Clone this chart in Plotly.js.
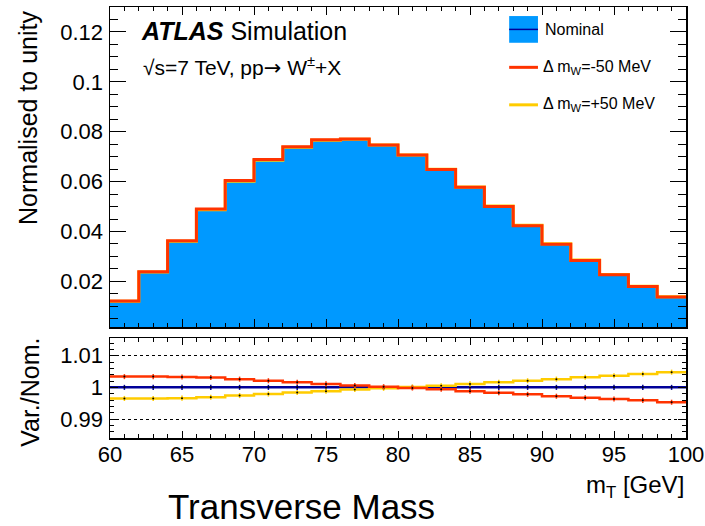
<!DOCTYPE html>
<html>
<head>
<meta charset="utf-8">
<script src="https://cdn.plot.ly/plotly-3.0.1.min.js"></script>
<style>
html,body{margin:0;padding:0;background:#fff;}
#plot{width:705px;height:526px;}
</style>
</head>
<body>
<div id="plot"></div>
<script>
// ---- data ----
const binEdges = [60,62,64,66,68,70,72,74,76,78,80,82,84,86,88,90,92,94,96,98,100];
const binCenters = [61,63,65,67,69,71,73,75,77,79,81,83,85,87,89,91,93,95,97,99];

const nominal = [0.0121,0.0238,0.0362,0.0489,0.0603,0.0687,0.0739,0.0767,0.0770,0.0747,
                 0.0707,0.0649,0.0578,0.0501,0.0424,0.0350,0.0285,0.0227,0.0180,0.0138];
const massDown = [0.01214,0.02388,0.03632,0.04905,0.06046,0.06884,0.07402,0.07678,0.07705,0.07471,
                  0.07069,0.06486,0.05773,0.05001,0.04231,0.03490,0.02841,0.02262,0.01793,0.01374];
const massUp = [0.01206,0.02372,0.03608,0.04875,0.06014,0.06856,0.07378,0.07661,0.07695,0.07468,
                0.07071,0.06493,0.05786,0.05018,0.04249,0.03509,0.02859,0.02278,0.01808,0.01387];

const ratioNominal = [1,1,1,1,1,1,1,1,1,1,1,1,1,1,1,1,1,1,1,1];
const ratioDown = [1.0034,1.0034,1.0033,1.0031,1.0026,1.0021,1.0016,1.0011,1.0006,1.0002,
                   0.9998,0.9994,0.9988,0.9983,0.9978,0.9972,0.9967,0.9963,0.9959,0.9953];
const ratioUp = [0.9965,0.9965,0.9966,0.9969,0.9974,0.9979,0.9984,0.9988,0.9993,0.9997,
                 1.0001,1.0005,1.0011,1.0016,1.0021,1.0026,1.0032,1.0037,1.0042,1.0048];
const ratioErr = [0.0008,0.0008,0.0008,0.0008,0.0008,0.0008,0.0008,0.0008,0.0008,0.0008,
                  0.0008,0.0008,0.0008,0.0008,0.0008,0.0008,0.0008,0.0008,0.0008,0.0008];

const topTickVals = [0.02,0.04,0.06,0.08,0.1,0.12];
const topTickText = ["0.02","0.04","0.06","0.08","0.1","0.12"];
const ratioTickVals = [0.99,1,1.01];
const ratioTickText = ["0.99","1","1.01"];

const seriesNames = ["Nominal","Δ m<sub>W</sub>=-50 MeV","Δ m<sub>W</sub>=+50 MeV"];

// ---- styles ----
const FONT = "Liberation Sans, Arial, Helvetica, sans-serif";
const cBlue = "#0099ff", cNavy = "#000099", cRed = "#ff3300", cYellow = "#ffcc00";

function stepY(v){ return v.concat([v[v.length-1]]); }

const traces = [
  {type:"bar", x:binCenters, y:nominal, width:2, marker:{color:cBlue, line:{width:0}},
   xaxis:"x", yaxis:"y", hoverinfo:"skip", showlegend:false},
  {type:"scatter", mode:"lines", x:binEdges, y:stepY(massUp), line:{shape:"hv", color:cYellow, width:3},
   xaxis:"x", yaxis:"y", showlegend:false},
  {type:"scatter", mode:"lines", x:binEdges, y:stepY(massDown), line:{shape:"hv", color:cRed, width:3},
   xaxis:"x", yaxis:"y", showlegend:false},
  // ratio panel
  {type:"scatter", mode:"lines", x:binEdges, y:stepY(ratioNominal), line:{shape:"hv", color:cNavy, width:2.5},
   xaxis:"x2", yaxis:"y2", showlegend:false},
  {type:"scatter", mode:"markers", x:binCenters, y:ratioNominal, marker:{size:2, color:"#000"},
   error_y:{type:"data", array:ratioErr, visible:true, width:0, thickness:1.5, color:cNavy},
   xaxis:"x2", yaxis:"y2", showlegend:false},
  {type:"scatter", mode:"lines", x:binEdges, y:stepY(ratioUp), line:{shape:"hv", color:cYellow, width:2.5},
   xaxis:"x2", yaxis:"y2", showlegend:false},
  {type:"scatter", mode:"markers", x:binCenters, y:ratioUp, marker:{size:2, color:"#000"},
   error_y:{type:"data", array:ratioErr, visible:true, width:0, thickness:1.5, color:cYellow},
   xaxis:"x2", yaxis:"y2", showlegend:false},
  {type:"scatter", mode:"lines", x:binEdges, y:stepY(ratioDown), line:{shape:"hv", color:cRed, width:2.5},
   xaxis:"x2", yaxis:"y2", showlegend:false},
  {type:"scatter", mode:"markers", x:binCenters, y:ratioDown, marker:{size:2, color:"#000"},
   error_y:{type:"data", array:ratioErr, visible:true, width:0, thickness:1.5, color:cRed},
   xaxis:"x2", yaxis:"y2", showlegend:false}
];

const frame = {showline:true, linecolor:"#000", linewidth:1.5, mirror:"ticks", ticks:"inside",
               tickcolor:"#000", zeroline:false, showgrid:false};

// legend geometry (paper coords)
const legX0 = 0.693, legX1 = 0.743, legTextX = 0.752;
const legY = [0.948, 0.860, 0.773];

const shapes = [
  {type:"rect", xref:"paper", yref:"paper", x0:legX0, x1:legX1, y0:0.917, y1:0.979,
   fillcolor:cBlue, line:{width:0}},
  {type:"line", xref:"paper", yref:"paper", x0:legX0, x1:legX1, y0:legY[0], y1:legY[0], line:{color:cNavy, width:1.5}},
  {type:"line", xref:"paper", yref:"paper", x0:legX0, x1:legX1, y0:legY[1], y1:legY[1], line:{color:cRed, width:3}},
  {type:"line", xref:"paper", yref:"paper", x0:legX0, x1:legX1, y0:legY[2], y1:legY[2], line:{color:cYellow, width:3}}
];

const annotations = [
  {text:"<b><i>ATLAS</i></b> Simulation", xref:"paper", yref:"paper", x:0.050, y:0.944,
   xanchor:"left", yanchor:"middle", showarrow:false, font:{family:FONT, size:25, color:"#000"}},
  {text:"√s=7 TeV, pp<span style=\"font-family:DejaVu Sans\">→</span> W<sup>±</sup>+X", xref:"paper", yref:"paper", x:0.053, y:0.861,
   xanchor:"left", yanchor:"middle", showarrow:false, font:{family:FONT, size:21, color:"#000"}},
  {text:"Normalised to unity", xref:"paper", yref:"paper", x:-0.142, y:0.743, textangle:-90,
   xanchor:"center", yanchor:"middle", showarrow:false, font:{family:FONT, size:25, color:"#000"}},
  {text:"Var./Nom.", xref:"paper", yref:"paper", x:-0.139, y:0.107, textangle:-90,
   xanchor:"center", yanchor:"middle", showarrow:false, font:{family:FONT, size:25, color:"#000"}},
  {text:"m<sub>T</sub> [GeV]", xref:"paper", yref:"paper", x:1.0, y:-0.112,
   xanchor:"right", yanchor:"middle", showarrow:false, font:{family:FONT, size:24, color:"#000"}},
  {text:"Transverse Mass", xref:"paper", yref:"paper", x:0.333, y:-0.16,
   xanchor:"center", yanchor:"middle", showarrow:false, font:{family:FONT, size:35, color:"#000"}}
];
seriesNames.forEach(function(n,i){
  annotations.push({text:n, xref:"paper", yref:"paper", x:legTextX - (i>0?0.004:0), y:legY[i],
    xanchor:"left", yanchor:"middle", showarrow:false, font:{family:FONT, size:16, color:"#000"}});
});

const layout = {
  width:705, height:526,
  margin:{l:110, r:19, t:7, b:88},
  paper_bgcolor:"#fff", plot_bgcolor:"#fff",
  font:{family:FONT, color:"#000"},
  showlegend:false, bargap:0,
  xaxis: Object.assign({}, frame, {domain:[0,1], anchor:"y", range:[60,100], tickmode:"linear", tick0:60, dtick:5,
    ticklen:8, tickwidth:1, showticklabels:false,
    minor:{ticks:"inside", tickmode:"linear", tick0:60, dtick:1, ticklen:4, tickcolor:"#000", showgrid:false}}),
  yaxis: Object.assign({}, frame, {domain:[0.2575,1], anchor:"x", range:[0.0017,0.130], tickmode:"array",
    tickvals:topTickVals, ticktext:topTickText, ticklen:16, tickwidth:1,
    tickfont:{family:FONT, size:22, color:"#000"}, ticklabelstandoff:1,
    minor:{ticks:"inside", tickmode:"linear", tick0:0, dtick:0.005, ticklen:8, tickcolor:"#000", showgrid:false}}),
  xaxis2: Object.assign({}, frame, {domain:[0,1], anchor:"y2", range:[60,100], tickmode:"linear", tick0:60, dtick:5,
    ticklen:7, tickwidth:1, tickfont:{family:FONT, size:22, color:"#000"}, ticklabelstandoff:-4,
    minor:{ticks:"inside", tickmode:"linear", tick0:60, dtick:1, ticklen:4, tickcolor:"#000", showgrid:false}}),
  yaxis2: Object.assign({}, frame, {domain:[0,0.232], anchor:"x2", range:[0.984,1.0156], tickmode:"array",
    tickvals:ratioTickVals, ticktext:ratioTickText, ticklen:8, tickwidth:1,
    showgrid:true, gridcolor:"#000", gridwidth:1, griddash:"dot",
    tickfont:{family:FONT, size:22, color:"#000"}, ticklabelstandoff:1,
    minor:{ticks:"inside", tickmode:"linear", tick0:0.98, dtick:0.002, ticklen:4, tickcolor:"#000", showgrid:false}}),
  shapes:shapes,
  annotations:annotations
};

Plotly.newPlot("plot", traces, layout, {displayModeBar:false, staticPlot:true});
</script>
</body>
</html>
